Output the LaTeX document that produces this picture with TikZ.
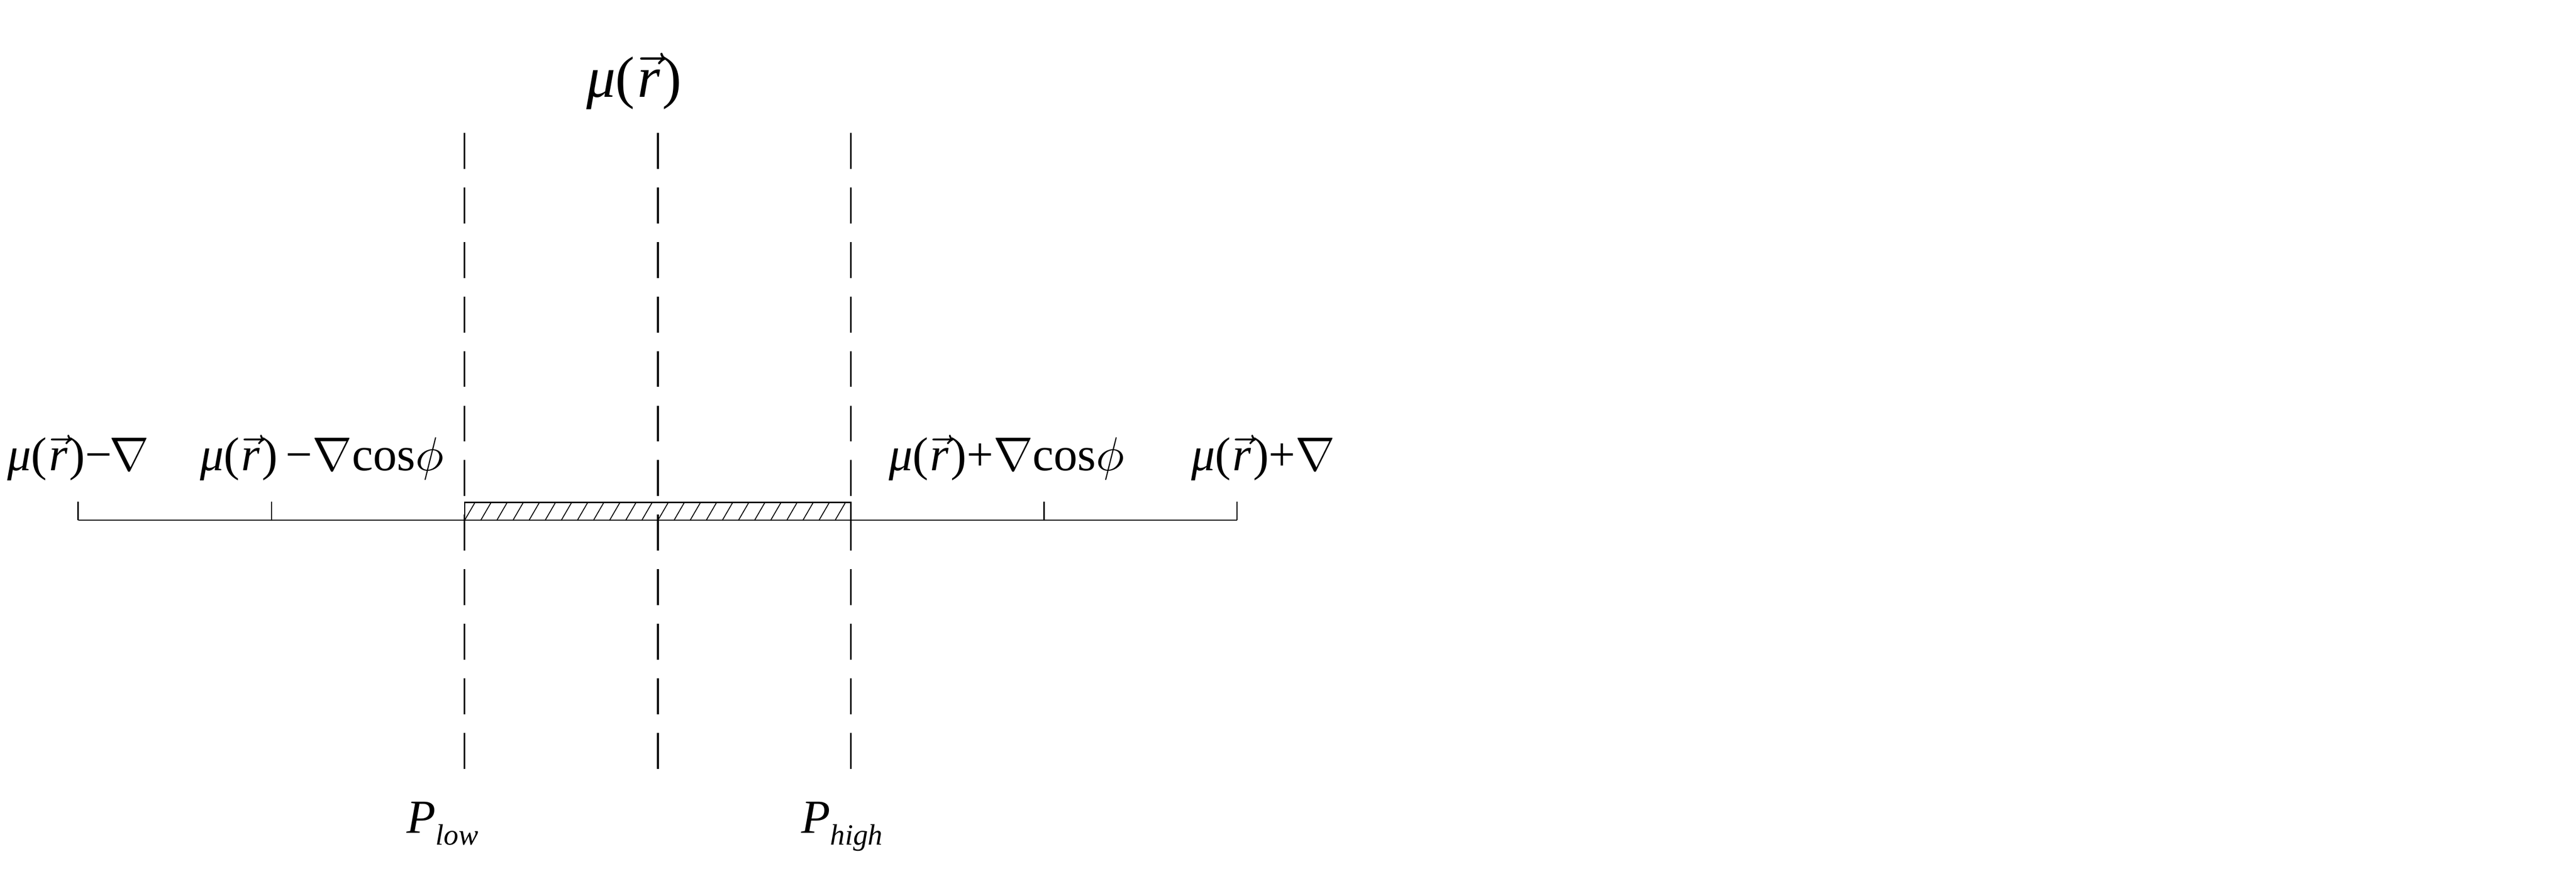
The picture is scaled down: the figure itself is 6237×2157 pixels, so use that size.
\documentclass[tikz,border=0pt]{standalone}
\usepackage{fontspec}
\setmainfont{Liberation Serif}
\newcommand{\mur}{{\itshape μ}(\kern0.04em$\vec{\mbox{\itshape r}}$\kern0.04em)}
\newcommand{\subtxt}[1]{\raisebox{-0.25em}{\fontsize{6.2}{7}\selectfont\itshape #1}}
\begin{document}
\begin{tikzpicture}[x=0.01cm, y=-0.01cm,
  lblbase/.style={inner sep=0pt, outer sep=0pt, anchor=base west},
  lbl/.style={lblbase, scale=3.27},
  toplbl/.style={lblbase, scale=4.0},
  dashv/.style={line width=0.04cm, dash pattern=on 0.87cm off 0.45cm},
  axisl/.style={line width=0.03cm},
  hatchl/.style={line width=0.022cm},
  topedge/.style={line width=0.045cm}]
\useasboundingbox[fill=white] (0,0) rectangle (6237,2157);
% dashed vertical lines
\foreach \n/\x in {L/1125, C/1593, H/2060} {
  \coordinate (top-\n) at (\x,322);
  \coordinate (bot-\n) at (\x,1862);
  \draw[dashv] (top-\n) -- (bot-\n);
}
% hatched band
\coordinate (hb) at (1125,1260);
\coordinate (ht) at (2060,1217);
\begin{scope}
  \clip (hb) rectangle (ht);
  \foreach \k in {0,...,24} \draw[hatchl] (1125+\k*39,1260) -- ++(25,-43);
\end{scope}
\draw[axisl] (hb) rectangle (ht);
\draw[topedge] (hb |- ht) -- (ht);
% axis and ticks
\foreach \n/\x in {a/189, b/657, c/2528, d/2995} {
  \coordinate (base-\n) at (\x,1260);
  \coordinate (tip-\n) at (\x,1215);
  \draw[axisl] (base-\n) -- (tip-\n);
}
\draw[axisl] (base-a) -- (base-d);
% labels
\node[toplbl] (mtop) at (1420,235) {\mur};
\node[lbl] (m1) at (18,1140) {\mur−\kern-0.05em$\nabla$};
\node[lbl] (m2) at (484,1140) {\mur\,−$\nabla$cos$\phi$};
\node[lbl] (m3) at (2152,1140) {\mur+$\nabla$cos$\phi$};
\node[lbl] (m4) at (2884,1140) {\mur+$\nabla$};
\node[lbl] (plow) at (985,2018) {\itshape P\subtxt{low}};
\node[lbl] (phigh) at (1940,2018) {\itshape P\subtxt{high}};
\end{tikzpicture}
\end{document}
